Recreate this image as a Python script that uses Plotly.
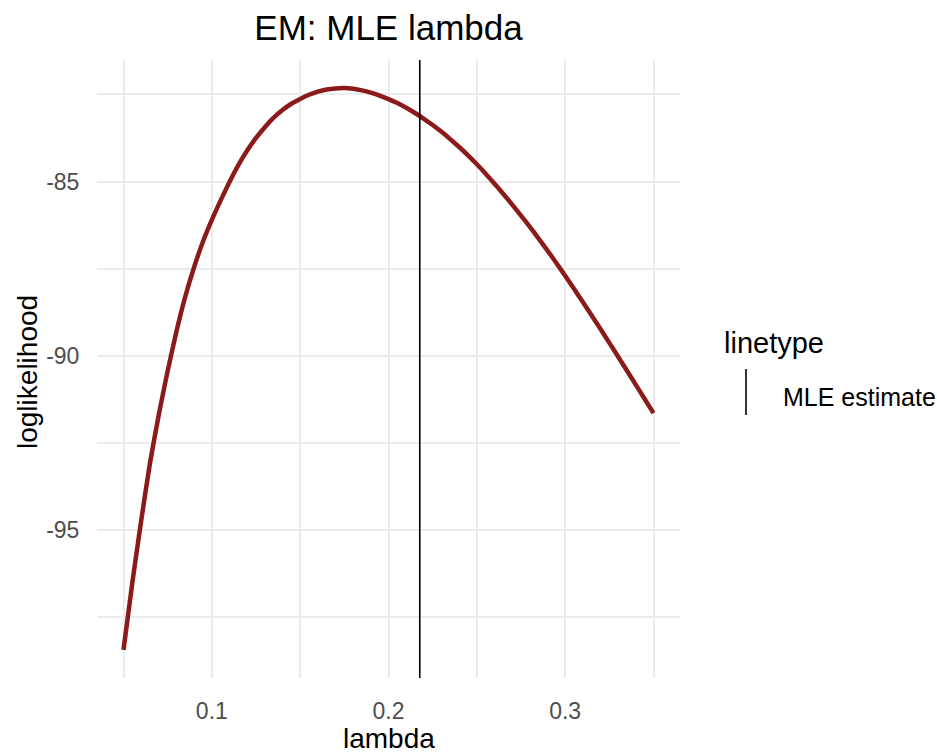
import plotly.graph_objects as go

# ---- data ----
lam = [0.050, 0.055, 0.060, 0.065, 0.070, 0.075, 0.080, 0.085, 0.090, 0.095,
       0.100, 0.105, 0.110, 0.115, 0.120, 0.125, 0.130, 0.135, 0.140, 0.145,
       0.150, 0.155, 0.160, 0.165, 0.170, 0.175, 0.180, 0.185, 0.190, 0.195,
       0.200, 0.205, 0.210, 0.215, 0.220, 0.225, 0.230, 0.235, 0.240, 0.245,
       0.250, 0.255, 0.260, 0.265, 0.270, 0.275, 0.280, 0.285, 0.290, 0.295,
       0.300, 0.305, 0.310, 0.315, 0.320, 0.325, 0.330, 0.335, 0.340, 0.345,
       0.350]
loglik = [-98.43, -96.50, -94.73, -93.07, -91.68, -90.43, -89.29, -88.29, -87.45, -86.72,
          -86.10, -85.54, -85.01, -84.53, -84.11, -83.75, -83.44, -83.17, -82.95, -82.77,
          -82.63, -82.51, -82.42, -82.36, -82.33, -82.32, -82.34, -82.385, -82.45, -82.535,
          -82.635, -82.75, -82.885, -83.035, -83.20, -83.38, -83.575, -83.785, -84.01, -84.25,
          -84.505, -84.775, -85.06, -85.355, -85.66, -85.975, -86.30, -86.635, -86.98, -87.335,
          -87.70, -88.075, -88.455, -88.84, -89.23, -89.625, -90.025, -90.425, -90.83, -91.235,
          -91.64]
mle_lambda = 0.2177

x_ticks = [0.1, 0.2, 0.3]
x_ticklabels = ["0.1", "0.2", "0.3"]
x_minor = [0.05, 0.15, 0.25, 0.35]
y_ticks = [-95, -90, -85]
y_ticklabels = ["-95", "-90", "-85"]
y_minor = [-97.5, -92.5, -87.5, -82.5]

title_text = "EM: MLE lambda"
x_title = "lambda"
y_title = "loglikelihood"
legend_title = "linetype"
legend_label = "MLE estimate"

FONT = "Liberation Sans, Arial, sans-serif"
GRID = "#EBEBEB"

# panel placement in page pixels
W, H = 937, 753
PL, PR, PT, PB = 97, 680, 60, 678
PW, PH = PR - PL, PB - PT


def px(xp):
    return (xp - PL) / PW


def py(yp):
    return (PB - yp) / PH


fig = go.Figure()
fig.add_trace(go.Scatter(
    x=lam, y=loglik, mode="lines",
    line=dict(color="#8B1A1A", width=4.5, shape="spline", smoothing=0.6),
    showlegend=False, hoverinfo="skip"))

# ggplot-like 5% expansion
xr = max(lam) - min(lam)
ymin, ymax = min(loglik), max(loglik)
yr = ymax - ymin
x_range = [min(lam) - 0.05 * xr, max(lam) + 0.05 * xr]
y_range = [ymin - 0.05 * yr, ymax + 0.05 * yr]

fig.add_shape(type="line", xref="x", yref="paper",
              x0=mle_lambda, x1=mle_lambda, y0=0, y1=1,
              line=dict(color="black", width=1.6), layer="above")

# manual legend (vertical key glyph, as in ggplot's vline legend)
fig.add_annotation(xref="paper", yref="paper", x=px(722), y=py(343),
                   xanchor="left", yanchor="middle",
                   text=legend_title, showarrow=False,
                   font=dict(family=FONT, size=29, color="black"))
fig.add_shape(type="line", xref="paper", yref="paper",
              x0=px(746), x1=px(746), y0=py(369), y1=py(415),
              line=dict(color="black", width=1.6))
fig.add_annotation(xref="paper", yref="paper", x=px(781), y=py(397),
                   xanchor="left", yanchor="middle",
                   text=legend_label, showarrow=False,
                   font=dict(family=FONT, size=25, color="black"))

# axis titles
fig.add_annotation(xref="paper", yref="paper", x=px((PL + PR) / 2), y=py(738),
                   xanchor="center", yanchor="middle", text=x_title,
                   showarrow=False, font=dict(family=FONT, size=28, color="black"))
fig.add_annotation(xref="paper", yref="paper", x=px(27), y=py(372),
                   xanchor="center", yanchor="middle", text=y_title, textangle=-90,
                   showarrow=False, font=dict(family=FONT, size=28, color="black"))

fig.update_layout(
    width=W, height=H, autosize=False,
    paper_bgcolor="white", plot_bgcolor="white",
    margin=dict(l=PL, r=W - PR, t=PT, b=H - PB, autoexpand=False),
    font=dict(family=FONT, color="black"),
    title=dict(text=title_text, x=(PL + PR) / 2 / W, xanchor="center",
               y=1 - 28 / H, yanchor="middle",
               font=dict(family=FONT, size=35, color="black")),
    showlegend=False,
)
fig.update_xaxes(
    range=x_range, tickvals=x_ticks, ticktext=x_ticklabels, automargin=False,
    showgrid=True, gridcolor=GRID, gridwidth=2, zeroline=False,
    showline=False, ticks="outside", ticklen=12, tickcolor="rgba(0,0,0,0)",
    tickfont=dict(family=FONT, size=23, color="#4D4D4D"),
    minor=dict(tickvals=x_minor, showgrid=True, gridcolor=GRID, gridwidth=1.6),
)
fig.update_yaxes(
    range=y_range, tickvals=y_ticks, ticktext=y_ticklabels, automargin=False,
    showgrid=True, gridcolor=GRID, gridwidth=2, zeroline=False,
    showline=False, ticks="outside", ticklen=12, tickcolor="rgba(0,0,0,0)",
    tickfont=dict(family=FONT, size=23, color="#4D4D4D"),
    minor=dict(tickvals=y_minor, showgrid=True, gridcolor=GRID, gridwidth=1.6),
)

fig.write_html(
    "out.html",
    config={"displayModeBar": False},
    post_script="document.body.style.margin='0';document.body.style.overflow='hidden';",
)
